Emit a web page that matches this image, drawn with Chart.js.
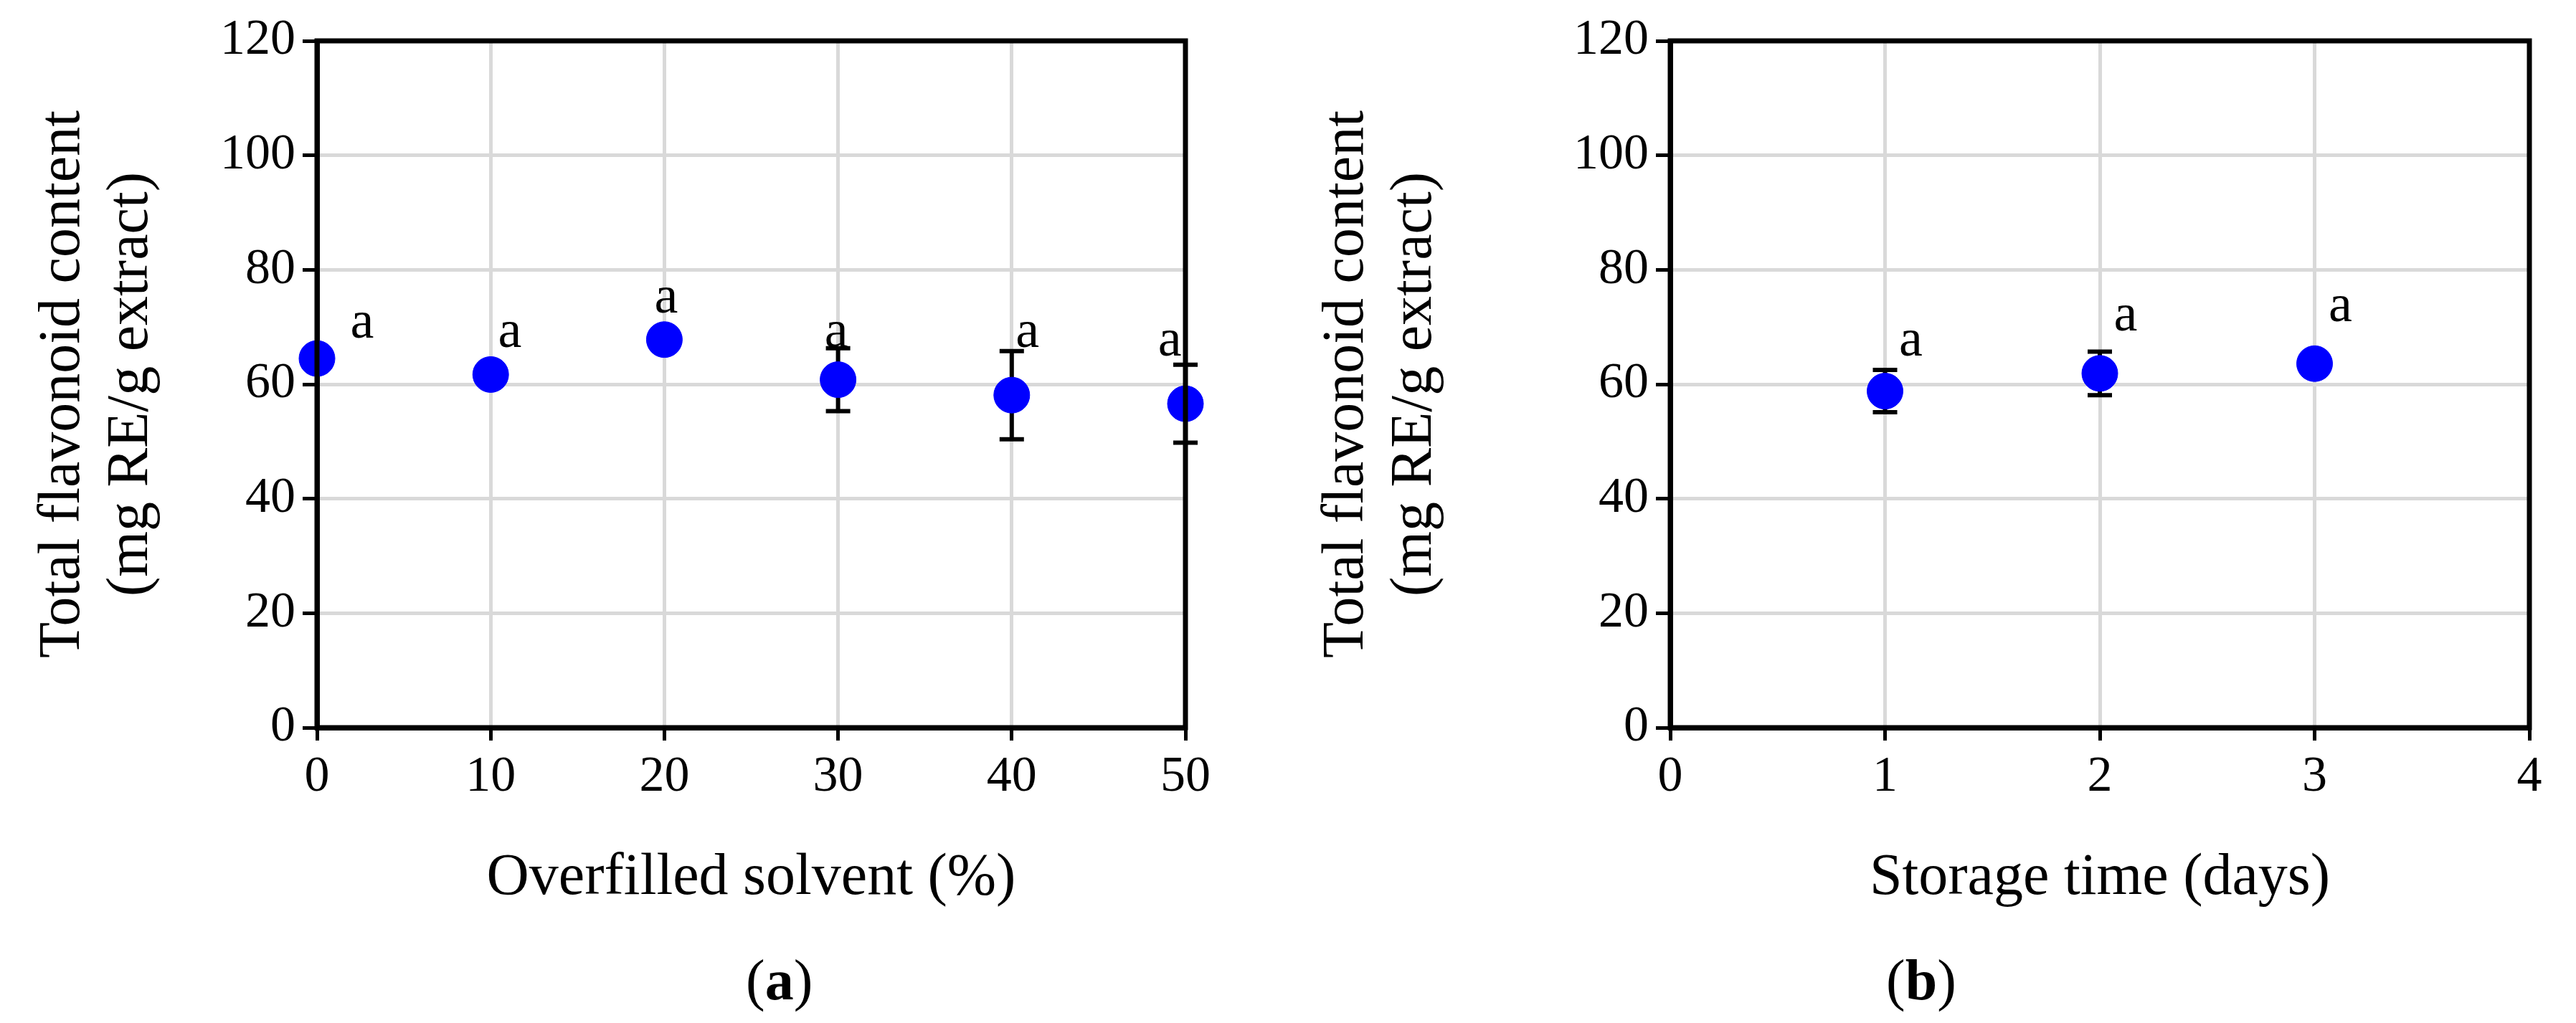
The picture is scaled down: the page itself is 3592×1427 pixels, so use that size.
<!DOCTYPE html>
<html>
<head>
<meta charset="utf-8">
<script src="https://cdn.jsdelivr.net/npm/chart.js@4.4.0/dist/chart.umd.min.js"></script>
<style>
  body { margin: 0; background: #fff; width: 3592px; height: 1427px; position: relative; overflow: hidden; }
  .panel { position: absolute; top: 0; height: 1427px; }
  .cap { position: absolute; top: 1322px; font: 80px "Liberation Serif", serif; color: #000; }
</style>
</head>
<body>
<div class="panel" style="left:0;width:1790px"><canvas id="chartA"></canvas></div>
<div class="panel" style="left:1790px;width:1802px"><canvas id="chartB"></canvas></div>
<div class="cap" style="left:1040px">(<b>a</b>)</div>
<div class="cap" style="left:2630px">(<b>b</b>)</div>
<script>
// ---- data: panel (a) ----
const solventX = [0, 10, 20, 30, 40, 50];
const solventTFC = [64.5, 61.7, 67.8, 60.8, 58.1, 56.6];
const solventErr = [0, 0, 0, 5.5, 7.7, 6.8];
const solventLetters = ['a', 'a', 'a', 'a', 'a', 'a'];
const solventLetterX = [2.6, 11.1, 20.1, 29.9, 40.9, 49.1];
const solventLetterY = [70.6, 68.9, 74.9, 68.9, 68.9, 67.5];

// ---- data: panel (b) ----
const storageX = [1, 2, 3];
const storageTFC = [58.8, 61.9, 63.6];
const storageErr = [3.7, 3.8, 1.5];
const storageLetters = ['a', 'a', 'a'];
const storageLetterX = [1.12, 2.12, 3.12];
const storageLetterY = [67.5, 71.8, 73.5];

const yTicks = [0, 20, 40, 60, 80, 100, 120];
const FONT = '"Liberation Serif", serif';

// error bars + significance letters
const extrasPlugin = {
    id: 'extras',
    beforeDatasetsDraw(chart, args, opts) {
        const { ctx, scales: { x, y } } = chart;
        ctx.save();
        ctx.strokeStyle = '#000';
        ctx.lineWidth = 6;
        opts.xs.forEach((v, i) => {
            const e = opts.err[i];
            if (!e) return;
            const px = x.getPixelForValue(v);
            const top = y.getPixelForValue(opts.ys[i] + e);
            const bot = y.getPixelForValue(opts.ys[i] - e);
            ctx.beginPath();
            ctx.moveTo(px, top); ctx.lineTo(px, bot);
            ctx.moveTo(px - 17, top); ctx.lineTo(px + 17, top);
            ctx.moveTo(px - 17, bot); ctx.lineTo(px + 17, bot);
            ctx.stroke();
        });
        ctx.restore();
    },
    afterDatasetsDraw(chart, args, opts) {
        const { ctx, scales: { x, y } } = chart;
        ctx.save();
        ctx.fillStyle = '#000';
        ctx.font = '74px ' + FONT;
        ctx.textAlign = 'center';
        ctx.textBaseline = 'middle';
        opts.letters.forEach((t, i) => {
            ctx.fillText(t, x.getPixelForValue(opts.lx[i]), y.getPixelForValue(opts.ly[i]));
        });
        ctx.restore();
    }
};

const framePlugin = {
    id: 'frame',
    afterDraw(chart) {
        const { ctx, chartArea: a } = chart;
        ctx.save();
        ctx.strokeStyle = '#000';
        ctx.lineWidth = 7;
        ctx.strokeRect(a.left, a.top, a.right - a.left, a.bottom - a.top);
        ctx.restore();
    }
};

function makeChart(id, xs, ys, err, letters, lx, ly, xMax, xStep, xTitle, padRight, yWidth) {
    return new Chart(document.getElementById(id), {
        type: 'scatter',
        data: {
            datasets: [{
                data: xs.map((v, i) => ({ x: v, y: ys[i] })),
                backgroundColor: '#0000ff',
                borderColor: '#0000ff',
                pointRadius: 25,
                pointHoverRadius: 25,
                clip: false
            }]
        },
        plugins: [extrasPlugin, framePlugin],
        options: {
            responsive: true,
            maintainAspectRatio: false,
            animation: false,
            layout: { padding: { top: 57, right: padRight, bottom: 152, left: 0 } },
            plugins: {
                legend: { display: false },
                tooltip: { enabled: false },
                extras: { xs, ys, err, letters, lx, ly }
            },
            scales: {
                x: {
                    type: 'linear',
                    min: 0, max: xMax,
                    ticks: { stepSize: xStep, color: '#000', font: { family: FONT, size: 70 }, padding: 10 },
                    grid: { color: '#d9d9d9', lineWidth: 5, tickColor: '#000', tickLength: 18 },
                    border: { color: '#000', width: 7 },
                    title: { display: true, text: xTitle, color: '#000', font: { family: FONT, size: 82 }, padding: 0 },
                    afterFit(s) { s.height = 260; }
                },
                y: {
                    min: 0, max: 120,
                    afterBuildTicks(s) { s.ticks = yTicks.map(v => ({ value: v })); },
                    ticks: { color: '#000', font: { family: FONT, size: 70 }, padding: 10 },
                    grid: { color: '#d9d9d9', lineWidth: 5, tickColor: '#000', tickLength: 20 },
                    border: { color: '#000', width: 7 },
                    title: { display: true, text: ['Total flavonoid content', '(mg RE/g extract)'], color: '#000', font: { family: FONT, size: 82, lineHeight: 1.17 }, padding: { top: 40 } },
                    afterFit(s) { s.width = yWidth; }
                }
            }
        }
    });
}

makeChart('chartA', solventX, solventTFC, solventErr, solventLetters, solventLetterX, solventLetterY, 50, 10, 'Overfilled solvent (%)', 137, 442);
makeChart('chartB', storageX, storageTFC, storageErr, storageLetters, storageLetterX, storageLetterY, 4, 1, 'Storage time (days)', 65, 539);
</script>
</body>
</html>
